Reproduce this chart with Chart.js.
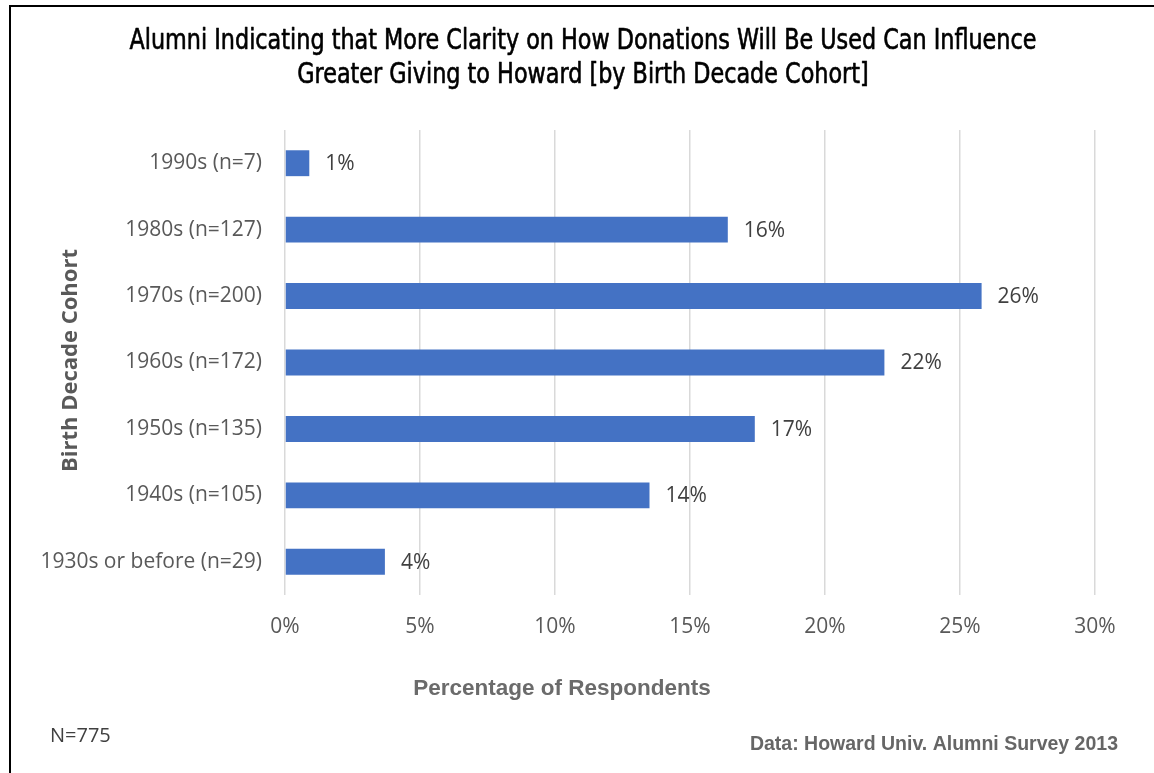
<!DOCTYPE html>
<html>
<head>
<meta charset="utf-8">
<script src="https://cdn.jsdelivr.net/npm/chart.js@4.4.1/dist/chart.umd.min.js"></script>
<style>
  html, body { margin: 0; padding: 0; background: #ffffff; }
  #wrap { position: relative; width: 1154px; height: 773px; }
</style>
</head>
<body>
<div id="wrap"><canvas id="chart" width="1154" height="773"></canvas></div>
<script>
// Birth decade cohorts (top to bottom) and share of alumni, in percent
const cohorts = [
  '1990s (n=7)',
  '1980s (n=127)',
  '1970s (n=200)',
  '1960s (n=172)',
  '1950s (n=135)',
  '1940s (n=105)',
  '1930s or before (n=29)'
];
const sharePct = [0.9, 16.4, 25.8, 22.2, 17.4, 13.5, 3.7];

const xTicks = [0, 5, 10, 15, 20, 25, 30];

const titleLines = [
  'Alumni Indicating that More Clarity on How Donations Will Be Used Can Influence',
  'Greater Giving to Howard [by Birth Decade Cohort]'
];
const yTitle = 'Birth Decade Cohort';
const xTitle = 'Percentage of Respondents';
const sampleNote = 'N=775';
const sourceNote = 'Data: Howard Univ. Alumni Survey 2013';

const BODY_FONT = '"Open Sans", "Noto Sans", sans-serif';
const NARROW_FONT = '"Liberation Sans Narrow", "DejaVu Sans Condensed", "Liberation Sans", sans-serif';
const ARIAL_FONT = '"Liberation Sans", Arial, sans-serif';

// Title block, value labels at the end of each bar, frame and side notes
const extras = {
  id: 'extras',
  afterDatasetsDraw(chart) {
    const ctx = chart.ctx;
    const meta = chart.getDatasetMeta(0);
    ctx.save();
    ctx.font = '21px ' + BODY_FONT;
    ctx.fillStyle = '#404040';
    ctx.textAlign = 'left';
    ctx.textBaseline = 'middle';
    meta.data.forEach((bar, i) => {
      ctx.fillText(Math.round(sharePct[i]) + '%', bar.x + 16, bar.y + 1);
    });
    ctx.restore();
  },
  afterDraw(chart) {
    const ctx = chart.ctx;
    const area = chart.chartArea;
    ctx.save();
    // frame
    ctx.fillStyle = '#000000';
    ctx.fillRect(9, 5, 2, 768);
    ctx.fillRect(9, 5, 1145, 2);

    // condensed two-line title, squeezed to a fixed line width
    ctx.font = '27.5px ' + NARROW_FONT;
    ctx.fillStyle = '#000000';
    ctx.strokeStyle = '#000000';
    ctx.lineWidth = 0.6;
    ctx.lineJoin = 'round';
    ctx.textAlign = 'center';
    ctx.textBaseline = 'alphabetic';
    const squeeze = 907 / ctx.measureText(titleLines[0]).width;
    const baselines = [49, 83];
    titleLines.forEach((line, i) => {
      ctx.save();
      ctx.translate(583, baselines[i]);
      ctx.scale(squeeze, 1);
      ctx.fillText(line, 0, 0);
      ctx.strokeText(line, 0, 0);
      ctx.restore();
    });

    // vertical axis title
    ctx.save();
    ctx.translate(71, (area.top + area.bottom) / 2 - 2);
    ctx.rotate(-Math.PI / 2);
    ctx.font = 'bold 22px ' + BODY_FONT;
    ctx.fillStyle = '#595959';
    ctx.textAlign = 'center';
    ctx.textBaseline = 'middle';
    ctx.fillText(yTitle, 0, 0);
    ctx.restore();

    // horizontal axis title
    ctx.font = 'bold 22.5px ' + ARIAL_FONT;
    ctx.fillStyle = '#6b6b6b';
    ctx.textAlign = 'center';
    ctx.textBaseline = 'middle';
    ctx.fillText(xTitle, 562, 689);

    // notes
    ctx.font = '20px ' + BODY_FONT;
    ctx.fillStyle = '#404040';
    ctx.textAlign = 'left';
    ctx.fillText(sampleNote, 50, 736);

    ctx.font = 'bold 19.5px ' + ARIAL_FONT;
    ctx.fillStyle = '#666666';
    ctx.textAlign = 'right';
    ctx.fillText(sourceNote, 1118, 745);
    ctx.restore();
  }
};

new Chart(document.getElementById('chart'), {
  type: 'bar',
  data: {
    labels: cohorts,
    datasets: [{
      data: sharePct,
      backgroundColor: '#4472C4',
      borderWidth: 0,
      categoryPercentage: 1,
      barPercentage: 0.39
    }]
  },
  options: {
    indexAxis: 'y',
    responsive: false,
    animation: false,
    events: [],
    layout: { padding: { top: 130, left: 0, right: 59, bottom: 118 } },
    plugins: {
      legend: { display: false },
      tooltip: { enabled: false },
      title: { display: false }
    },
    scales: {
      x: {
        min: xTicks[0],
        max: xTicks[xTicks.length - 1],
        afterBuildTicks(scale) {
          scale.ticks = xTicks.map(v => ({ value: v }));
        },
        afterFit(scale) { scale.height = 60; },
        grid: { color: '#d9d9d9', lineWidth: 1.5, drawTicks: false },
        border: { display: false },
        ticks: {
          padding: 19,
          color: '#595959',
          font: { family: BODY_FONT, size: 21 },
          callback: v => v + '%'
        }
      },
      y: {
        afterFit(scale) { scale.width = 285; },
        grid: { display: false, drawTicks: false },
        border: { display: false },
        ticks: {
          padding: 23,
          color: '#595959',
          font: { family: BODY_FONT, size: 21 }
        }
      }
    }
  },
  plugins: [extras]
});
</script>
</body>
</html>
